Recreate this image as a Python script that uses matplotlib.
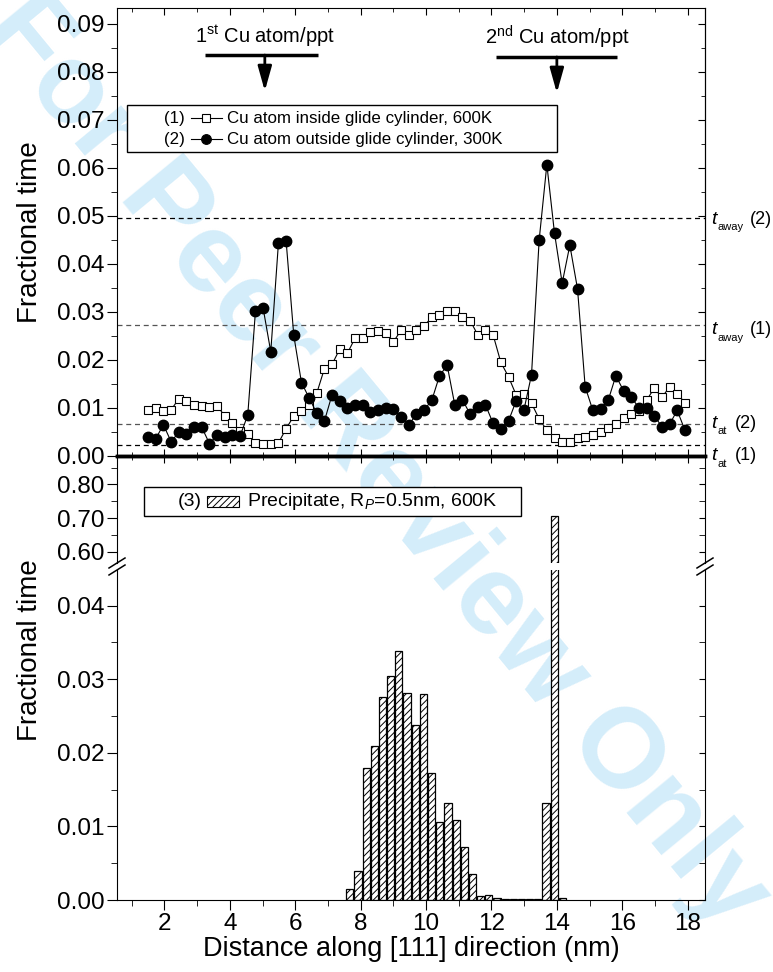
import numpy as np
import matplotlib
matplotlib.use("Agg")
import matplotlib.pyplot as plt
from matplotlib.patches import Rectangle
from matplotlib.lines import Line2D

plt.rcParams['font.family'] = ['Liberation Sans', 'DejaVu Sans']
plt.rcParams['mathtext.fontset'] = 'custom'
plt.rcParams['mathtext.rm'] = 'Liberation Sans'
plt.rcParams['mathtext.it'] = 'Liberation Sans:italic'
plt.rcParams['hatch.linewidth'] = 0.7

# ---- data ----
# sampling positions of series (1) and (2), nm (regular grid)
x_start, x_step, n_pts = 1.50, 0.2345, 71
x_top = np.round(x_start + x_step * np.arange(n_pts), 3)

inside_600K = [0.0096, 0.0101, 0.0093, 0.0096, 0.0119, 0.0114, 0.0106, 0.0104, 0.0103, 0.0104,
               0.0084, 0.0068, 0.0052, 0.0046, 0.0028, 0.0026, 0.0026, 0.0027, 0.0057, 0.0083,
               0.0094, 0.0106, 0.0131, 0.0182, 0.0191, 0.0223, 0.0214, 0.0246, 0.0246, 0.0259,
               0.0260, 0.0256, 0.0238, 0.0262, 0.0251, 0.0262, 0.0271, 0.0289, 0.0294, 0.0303,
               0.0303, 0.0289, 0.0282, 0.0252, 0.0262, 0.0252, 0.0195, 0.0165, 0.0127, 0.0130,
               0.0110, 0.0077, 0.0054, 0.0038, 0.0029, 0.0029, 0.0038, 0.0040, 0.0043, 0.0051,
               0.0059, 0.0066, 0.0080, 0.0087, 0.0094, 0.0116, 0.0141, 0.0122, 0.0144, 0.0130,
               0.0111]

outside_300K = [0.0040, 0.0036, 0.0065, 0.0030, 0.0049, 0.0045, 0.0061, 0.0060, 0.0026, 0.0043,
                0.0039, 0.0043, 0.0042, 0.0085, 0.0301, 0.0308, 0.0217, 0.0443, 0.0448, 0.0251,
                0.0153, 0.0121, 0.0089, 0.0073, 0.0128, 0.0115, 0.0099, 0.0106, 0.0106, 0.0092,
                0.0095, 0.0100, 0.0098, 0.0081, 0.0065, 0.0087, 0.0096, 0.0116, 0.0167, 0.0189,
                0.0106, 0.0117, 0.0087, 0.0102, 0.0106, 0.0068, 0.0056, 0.0073, 0.0115, 0.0095,
                0.0169, 0.0450, 0.0607, 0.0464, 0.0360, 0.0439, 0.0348, 0.0144, 0.0095, 0.0098,
                0.0116, 0.0167, 0.0136, 0.0122, 0.0101, 0.0101, 0.0084, 0.0061, 0.0066, 0.0095,
                0.0054]

# precipitate histogram
bar_x = [7.67, 7.92, 8.17, 8.42, 8.67, 8.92, 9.17, 9.42, 9.67, 9.92, 10.17, 10.42, 10.67, 10.92,
         11.17, 11.42, 11.67, 11.92, 12.17, 12.42, 12.67, 12.92, 13.17, 13.42, 13.67, 13.92, 14.17]
bar_h = [0.0015, 0.0039, 0.0180, 0.0209, 0.0276, 0.0305, 0.0339, 0.0281, 0.0238, 0.0280, 0.0173,
         0.0106, 0.0132, 0.0109, 0.0072, 0.0035, 0.0005, 0.0007, 0.0003, 0.0002, 0.0001, 0.0001,
         0.0001, 0.0001, 0.0132, 0.706, 0.0003]

# reference levels
lvl_names = ['away', 'away', 'at', 'at']
lvl_ids = ['(2)', '(1)', '(2)', '(1)']
lvl_vals = [0.0495, 0.0273, 0.0066, 0.0022]
lvl_cols = ['black', '#555555', '#555555', 'black']

W, H = 773, 972
fig = plt.figure(figsize=(W / 100, H / 100), dpi=100)

def box(x0, x1, ytop, ybot):
    # pixel rectangle -> figure fraction
    return [x0 / W, 1 - ybot / H, (x1 - x0) / W, (ybot - ytop) / H]

L, R = 117, 705
ax1 = fig.add_axes(box(L, R, 8, 456))
ax2 = fig.add_axes(box(L, R, 456, 563))
ax3 = fig.add_axes(box(L, R, 570, 900))
for a in (ax1, ax2, ax3):
    a.set_facecolor('none')
    a.set_xlim(0.55, 18.53)
    a.set_xticks(np.arange(2, 19, 2))
    a.set_xticks(np.arange(1, 19, 2), minor=True)

# watermark behind everything
fig.text(375 / W, 1 - 463 / H, 'For Peer Review Only', rotation=-50.5, color='#d4edfa',
         fontsize=82, fontweight='bold', ha='center', va='center', zorder=-5)

TS = 17.5  # tick label size

# ---- top panel ----
ax1.set_ylim(0, 0.0933)
ax1.set_yticks(np.arange(0, 0.091, 0.01))
ax1.set_yticks(np.arange(0.005, 0.095, 0.01), minor=True)
ax1.yaxis.set_major_formatter(plt.FormatStrFormatter('%.2f'))
ax1.tick_params(axis='x', which='both', direction='in', top=True, bottom=True, labelbottom=False)
ax1.tick_params(axis='x', which='major', length=5)
ax1.tick_params(axis='x', which='minor', length=3)
ax1.tick_params(axis='y', which='major', direction='out', length=7, labelsize=TS, pad=2)
ax1.tick_params(axis='y', which='minor', direction='out', length=4)
ax1.spines['bottom'].set_linewidth(2.5)

for v, col in zip(lvl_vals, lvl_cols):
    ax1.axhline(v, color=col, lw=0.9, ls=(0, (4, 3)), zorder=1)

ax1.plot(x_top, inside_600K, '-s', color='black', lw=0.8, ms=6, mfc='white', mec='black', mew=0.8, zorder=3)
ax1.plot(x_top, outside_300K, '-o', color='black', lw=0.8, ms=7.5, mfc='black', mec='black', zorder=4)

# right hand labels: t, subscript, (n) -- placed in pixels
lab_y = [219, 330, 423, 456]
for name, idn, yp in zip(lvl_names, lvl_ids, lab_y):
    fig.text(711 / W, 1 - yp / H, 't', fontsize=14, style='italic', va='center', ha='left')
    fig.text(717 / W, 1 - (yp + 8) / H, name, fontsize=8, va='center', ha='left')
    xid = 750 if name == 'away' else 735
    fig.text(xid / W, 1 - yp / H, idn, fontsize=13, va='center', ha='left')

# arrows marking the Cu positions
for xc, x0, x1, yb, ytip, lab in [(5.07, 3.24, 6.69, 0.0835, 0.0760, r'1$^{\rm st}$ Cu atom/ppt'),
                                   (14.0, 12.14, 15.84, 0.0831, 0.0756, r'2$^{\rm nd}$ Cu atom/ppt')]:
    ax1.plot([x0, x1], [yb, yb], color='black', lw=2.5, solid_capstyle='butt')
    ax1.annotate('', xy=(xc, ytip), xytext=(xc, yb),
                 arrowprops=dict(arrowstyle='-|>,head_width=0.42,head_length=1.5', color='black',
                                 lw=2, shrinkA=0, shrinkB=0))
    ax1.text(xc, yb + 0.0013, lab, ha='center', va='bottom', fontsize=14.5)

# legend (1)/(2), drawn by hand to keep "(n)" before the symbol
ax1.add_patch(Rectangle((0.017, 0.678), 0.731, 0.105, transform=ax1.transAxes,
                        facecolor='white', edgecolor='black', lw=1, zorder=6))
for yy, mk, mfc, num, lab in [(0.754, 's', 'white', '(1)', 'Cu atom inside glide cylinder, 600K'),
                              (0.707, 'o', 'black', '(2)', 'Cu atom outside glide cylinder, 300K')]:
    ax1.text(0.080, yy, num, transform=ax1.transAxes, fontsize=12.2, va='center', zorder=7)
    ax1.add_line(Line2D([0.126, 0.179], [yy, yy], transform=ax1.transAxes, color='black', lw=0.8, zorder=7))
    ax1.add_line(Line2D([0.152], [yy], transform=ax1.transAxes, marker=mk, ms=6 if mk == 's' else 7,
                        mfc=mfc, mec='black', mew=0.8, color='black', zorder=8))
    ax1.text(0.187, yy, lab, transform=ax1.transAxes, fontsize=12.2, va='center', zorder=7)

ax1r = ax1.secondary_yaxis('right')
ax1r.set_yticks(np.arange(0, 0.091, 0.01))
ax1r.set_yticks(np.arange(0.005, 0.095, 0.01), minor=True)
ax1r.tick_params(axis='y', which='both', direction='in', labelright=False)
ax1r.tick_params(axis='y', which='major', length=5)
ax1r.tick_params(axis='y', which='minor', length=3)

# ---- bottom panel, broken axis ----
for a in (ax2, ax3):
    a.bar(bar_x, bar_h, width=0.22, facecolor='white', edgecolor='black', lw=0.9, hatch='/////')

ax2.set_ylim(0.5668, 0.8844)
ax2.set_yticks([0.6, 0.7, 0.8])
ax2.set_yticks([0.65, 0.75, 0.85], minor=True)
ax2.yaxis.set_major_formatter(plt.FormatStrFormatter('%.2f'))
ax2.spines['bottom'].set_visible(False)
ax2.spines['top'].set_linewidth(2.5)
ax2.tick_params(axis='x', which='both', direction='in', top=True, bottom=False, labelbottom=False)
ax2.tick_params(axis='x', which='major', length=5)
ax2.tick_params(axis='x', which='minor', length=3)
ax2.tick_params(axis='y', which='major', direction='out', length=7, labelsize=TS, pad=2)
ax2.tick_params(axis='y', which='minor', direction='out', length=4)
ax2r = ax2.secondary_yaxis('right')
ax2r.set_yticks([0.6, 0.7, 0.8])
ax2r.set_yticks([0.65, 0.75, 0.85], minor=True)
ax2r.tick_params(axis='y', which='both', direction='in', labelright=False, length=4)
ax2r.spines['right'].set_visible(False)

ax2.add_patch(Rectangle((0.046, 0.439), 0.641, 0.271, transform=ax2.transAxes,
                        facecolor='white', edgecolor='black', lw=1, zorder=6))
ax2.text(0.104, 0.579, '(3)', transform=ax2.transAxes, fontsize=14, va='center', zorder=7)
ax2.add_patch(Rectangle((0.153, 0.523), 0.054, 0.103, transform=ax2.transAxes, facecolor='white',
                        edgecolor='black', lw=0.8, hatch='/////', zorder=7))
ax2.text(0.221, 0.579, r'Precipitate, R$_P$=0.5nm, 600K', transform=ax2.transAxes,
         fontsize=14, va='center', zorder=7)

ax3.set_ylim(0, 0.04485)
ax3.set_yticks(np.arange(0, 0.041, 0.01))
ax3.set_yticks(np.arange(0.005, 0.045, 0.01), minor=True)
ax3.yaxis.set_major_formatter(plt.FormatStrFormatter('%.2f'))
ax3.spines['top'].set_visible(False)
ax3.tick_params(axis='x', which='major', direction='out', length=7, labelsize=TS, pad=2)
ax3.tick_params(axis='x', which='minor', direction='out', length=4)
ax3.tick_params(axis='y', which='major', direction='out', length=7, labelsize=TS, pad=2)
ax3.tick_params(axis='y', which='minor', direction='out', length=4)
ax3r = ax3.secondary_yaxis('right')
ax3r.set_yticks(np.arange(0, 0.041, 0.01))
ax3r.set_yticks(np.arange(0.005, 0.045, 0.01), minor=True)
ax3r.tick_params(axis='y', which='both', direction='in', labelright=False, length=4)
ax3r.spines['right'].set_visible(False)
ax3.set_xlabel('Distance along [111] direction (nm)', fontsize=19.5, labelpad=1)

# break marks on both spines
for xs in (L, R):
    for yc in (563, 570):
        fig.add_artist(Line2D([(xs - 8) / W, (xs + 8) / W], [1 - (yc + 5) / H, 1 - (yc - 5) / H],
                              color='black', lw=1.1))

fig.text(30 / W, 1 - 232 / H, 'Fractional time', rotation=90, fontsize=20, ha='center', va='center')
fig.text(30 / W, 1 - 650 / H, 'Fractional time', rotation=90, fontsize=20, ha='center', va='center')

fig.savefig('out.png', dpi=100, facecolor='white')
